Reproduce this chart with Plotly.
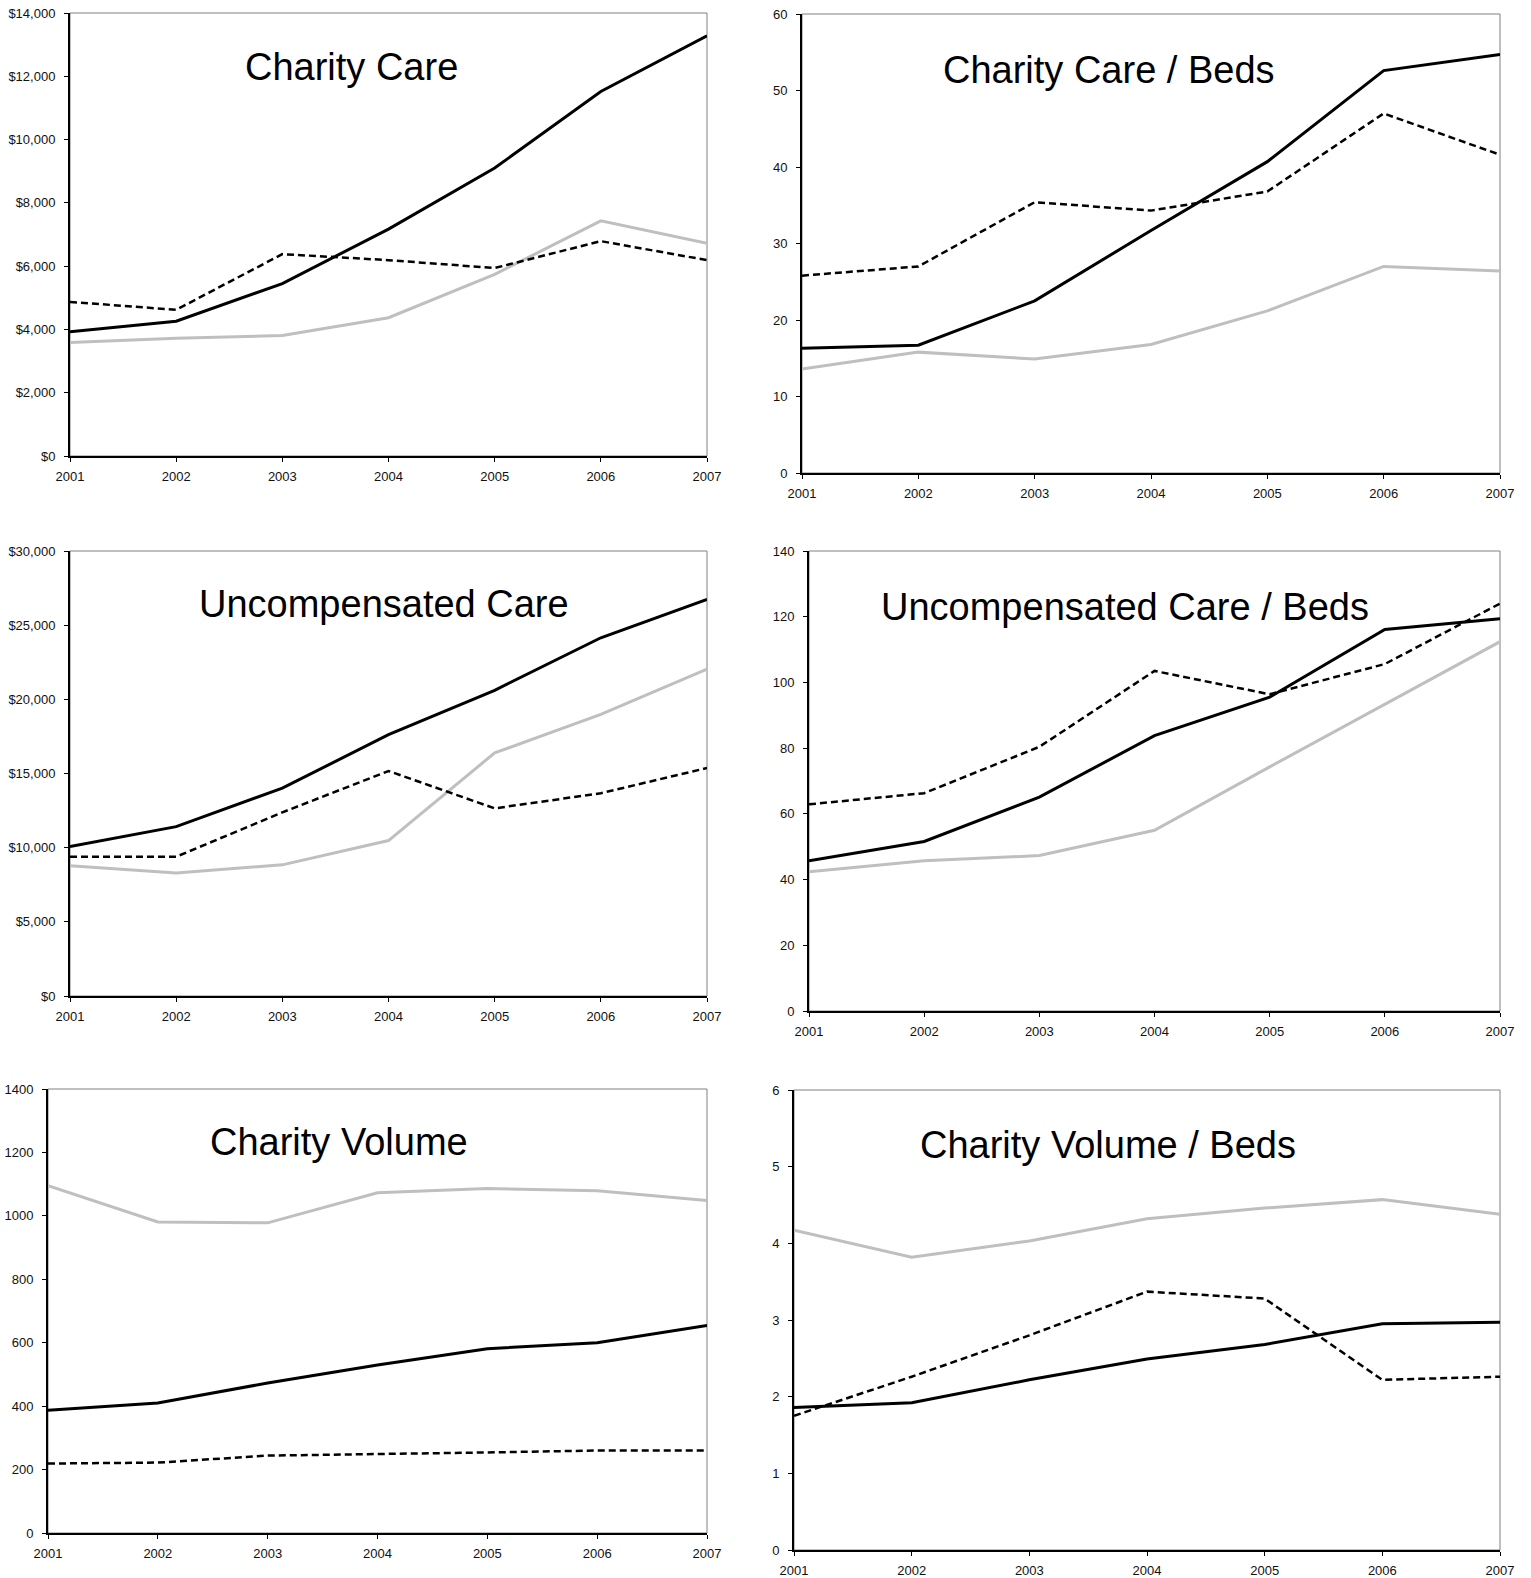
import plotly.graph_objects as go

W, H = 1531, 1578
years = [2001, 2002, 2003, 2004, 2005, 2006, 2007]

# Charity Care ($)
cc_black = [3930, 4260, 5450, 7170, 9100, 11520, 13280]
cc_dash = [4870, 4620, 6380, 6190, 5940, 6790, 6190]
cc_gray = [3590, 3720, 3810, 4370, 5740, 7430, 6720]
# Charity Care / Beds
ccb_black = [16.3, 16.7, 22.5, 31.7, 40.7, 52.6, 54.7]
ccb_dash = [25.8, 27.0, 35.4, 34.3, 36.8, 47.0, 41.6]
ccb_gray = [13.6, 15.8, 14.9, 16.8, 21.2, 27.0, 26.4]
# Uncompensated Care ($)
uc_black = [10070, 11420, 14010, 17620, 20610, 24150, 26730]
uc_dash = [9390, 9390, 12380, 15170, 12650, 13670, 15370]
uc_gray = [8780, 8300, 8840, 10480, 16390, 18980, 22040]
# Uncompensated Care / Beds
ucb_black = [45.7, 51.6, 65.1, 83.8, 95.5, 116.1, 119.4]
ucb_dash = [62.9, 66.3, 80.4, 103.5, 96.4, 105.6, 124.0]
ucb_gray = [42.4, 45.7, 47.3, 55.0, 74.3, 93.3, 112.4]
# Charity Volume
cv_black = [387, 410, 473, 530, 581, 600, 654]
cv_dash = [219, 222, 244, 248, 254, 260, 260]
cv_gray = [1095, 981, 978, 1073, 1086, 1079, 1048]
# Charity Volume / Beds
cvb_black = [1.86, 1.92, 2.22, 2.49, 2.68, 2.95, 2.97]
cvb_dash = [1.75, 2.26, 2.80, 3.37, 3.28, 2.22, 2.26]
cvb_gray = [4.17, 3.82, 4.03, 4.32, 4.46, 4.57, 4.38]

titles = ["Charity Care", "Charity Care / Beds", "Uncompensated Care",
          "Uncompensated Care / Beds", "Charity Volume", "Charity Volume / Beds"]

panels = [
    dict(data=(cc_black, cc_dash, cc_gray), box=(70, 707, 13, 456), yr=(0, 14000), dt=2000, money=True,
         title_xy=(351, 67)),
    dict(data=(ccb_black, ccb_dash, ccb_gray), box=(802, 1500, 14, 473), yr=(0, 60), dt=10, money=False,
         title_xy=(1109, 70)),
    dict(data=(uc_black, uc_dash, uc_gray), box=(70, 707, 551, 996), yr=(0, 30000), dt=5000, money=True,
         title_xy=(384, 604)),
    dict(data=(ucb_black, ucb_dash, ucb_gray), box=(809, 1500, 551, 1011), yr=(0, 140), dt=20, money=False,
         title_xy=(1125, 607)),
    dict(data=(cv_black, cv_dash, cv_gray), box=(48, 707, 1089, 1533), yr=(0, 1400), dt=200, money=False,
         title_xy=(339, 1142)),
    dict(data=(cvb_black, cvb_dash, cvb_gray), box=(794, 1500, 1090, 1550), yr=(0, 6), dt=1, money=False,
         title_xy=(1108, 1145)),
]

fig = go.Figure()
layout = dict(width=W, height=H, margin=dict(l=0, r=0, t=0, b=0, pad=0, autoexpand=False),
              autosize=False, plot_bgcolor="white",
              paper_bgcolor="white", showlegend=False, shapes=[], annotations=[])
font_tick = dict(family="Liberation Sans, Arial, sans-serif", size=13, color="#111111")

for i, p in enumerate(panels):
    n = i + 1
    xa = "x" if n == 1 else f"x{n}"
    ya = "y" if n == 1 else f"y{n}"
    black, dash, gray = p["data"]
    fig.add_trace(go.Scatter(x=years, y=gray, mode="lines", line=dict(color="#bfbfbf", width=3),
                             xaxis=xa, yaxis=ya, cliponaxis=False))
    fig.add_trace(go.Scatter(x=years, y=dash, mode="lines", line=dict(color="black", width=2.5, dash="7px,4px"),
                             xaxis=xa, yaxis=ya, cliponaxis=False))
    fig.add_trace(go.Scatter(x=years, y=black, mode="lines", line=dict(color="black", width=3),
                             xaxis=xa, yaxis=ya, cliponaxis=False))
    x0, x1, y0, y1 = p["box"]
    xk = "xaxis" if n == 1 else f"xaxis{n}"
    yk = "yaxis" if n == 1 else f"yaxis{n}"
    layout[xk] = dict(domain=[x0 / W, x1 / W], range=[2001, 2007], anchor=ya, tickmode="array",
                      tickvals=years, ticktext=[str(y) for y in years], showgrid=False, zeroline=False,
                      showline=True, linecolor="black", linewidth=2, ticks="outside", ticklen=4,
                      tickcolor="black", tickfont=font_tick, automargin=False, ticklabelstandoff=3)
    yd = dict(domain=[1 - y1 / H, 1 - y0 / H], range=list(p["yr"]), anchor=xa, dtick=p["dt"],
              tick0=0, showgrid=False, zeroline=False, showline=True, linecolor="black", linewidth=2,
              ticks="outside", ticklen=4, tickcolor="black", tickfont=font_tick, automargin=False,
              ticklabelstandoff=6)
    if p["money"]:
        yd.update(tickprefix="$", tickformat=",")
    else:
        yd.update(tickformat="d")
    layout[yk] = yd
    layout["shapes"].append(dict(type="rect", xref=f"{xa} domain", yref=f"{ya} domain", x0=0, x1=1, y0=0, y1=1,
                                 line=dict(color="#808080", width=1), layer="below"))
    tx, ty = p["title_xy"]
    layout["annotations"].append(dict(text=titles[i], x=tx / W, y=1 - ty / H, xref="paper", yref="paper",
                                      showarrow=False, xanchor="center", yanchor="middle",
                                      font=dict(family="Liberation Sans, Arial, sans-serif", size=38,
                                                color="black")))

fig.update_layout(**layout)
fig.write_html("out.html", config={"displayModeBar": False})

# remove the default body margin so the figure sits at the page origin
with open("out.html", "r", encoding="utf-8") as f:
    html = f.read()
html = html.replace("<head>", "<head><style>html,body{margin:0;padding:0;overflow:hidden;}</style>", 1)
with open("out.html", "w", encoding="utf-8") as f:
    f.write(html)
